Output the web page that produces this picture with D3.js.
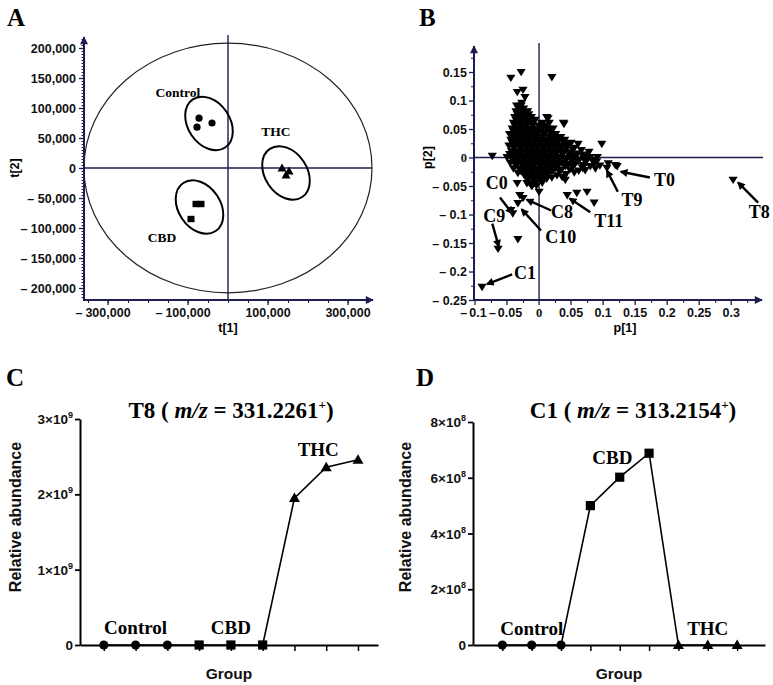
<!DOCTYPE html>
<html><head><meta charset="utf-8">
<script src="https://cdn.jsdelivr.net/npm/d3@7"></script>
<style>body{margin:0;background:#fff}</style>
</head><body>
<svg id="chart" width="773" height="685"></svg>
<script>
// ================= DATA =================
// Panel A: PCA score plot (t[1], t[2])
const scoreGroups = ["Control", "CBD", "THC"];
const controlScores = [[-72500, 83000], [-77500, 68000], [-40000, 75000]];
const cbdScores = [[-80000, -60000], [-67500, -60000], [-92500, -85000]];
const thcScores = [[135000, 0], [152500, -5000], [145000, -11700]];
const groupCentres = [[-47500, 74200], [-71250, -65000], [145000, -8300]];
const groupEllipseAxes = [72500, 52500];          // semi-axes, t[1] units
const hotellingAxes = [360000, 208000];           // Hotelling T2 ellipse
const scoreXTicks = [-300000, -100000, 100000, 300000];
const scoreYTicks = [200000, 150000, 100000, 50000, 0, -50000, -100000, -150000, -200000];

// Panel B: loading plot (p[1], p[2])
const loadings = [
  [-0.044,0.139],[-0.028,0.149],[0.020,0.140],[-0.034,0.114],[-0.025,0.118],[-0.022,0.105],
  [-0.027,0.095],[-0.033,0.077],[-0.019,0.079],[-0.028,0.066],[-0.014,0.068],[0.014,0.068],
  [0.039,0.058],[0.005,0.059],[-0.041,0.039],[-0.073,0.002],[-0.042,0.004],[0.045,0.024],
  [0.061,0.023],[0.078,0.009],[0.098,0.023],[0.091,0.000],[0.086,-0.011],[0.108,-0.011],
  [0.119,-0.014],[0.072,-0.023],[-0.033,-0.028],[-0.034,-0.046],[-0.019,-0.046],[0.000,-0.061],
  [0.041,-0.040],[0.044,-0.067],[0.059,-0.063],[0.075,-0.061],[0.086,-0.080],[-0.030,-0.067],
  [-0.025,-0.072],[-0.033,-0.081],[-0.041,-0.099],[-0.044,-0.093],[-0.033,-0.144],[-0.011,-0.051],
  [-0.064,-0.161],[-0.089,-0.228],[0.303,-0.040],[0.106,-0.019],[0.122,-0.016],
  [-0.035,0.090],[-0.028,0.090],
  [-0.032,0.085],[-0.024,0.085],
  [-0.036,0.080],[-0.027,0.080],[-0.018,0.080],
  [-0.034,0.075],[-0.025,0.075],[-0.016,0.075],
  [-0.038,0.070],[-0.030,0.070],[-0.020,0.070],[-0.012,0.070],[0.012,0.070],
  [-0.036,0.065],[-0.026,0.065],[-0.017,0.065],[-0.006,0.065],
  [-0.040,0.060],[-0.031,0.060],[-0.022,0.060],[-0.012,0.060],[0.004,0.060],[0.016,0.060],[0.038,0.060],
  [-0.038,0.055],[-0.029,0.055],[-0.020,0.055],[-0.010,0.055],[0.000,0.055],[0.010,0.055],
  [-0.042,0.050],[-0.034,0.050],[-0.025,0.050],[-0.016,0.050],[-0.006,0.050],[0.004,0.050],[0.014,0.050],[0.022,0.050],
  [-0.040,0.045],[-0.030,0.045],[-0.021,0.045],[-0.012,0.045],[-0.002,0.045],[0.008,0.045],[0.018,0.045],
  [-0.046,0.040],[-0.038,0.040],[-0.029,0.040],[-0.020,0.040],[-0.011,0.040],[-0.002,0.040],[0.008,0.040],[0.018,0.040],[0.026,0.040],
  [-0.040,0.035],[-0.031,0.035],[-0.022,0.035],[-0.013,0.035],[-0.004,0.035],[0.006,0.035],[0.016,0.035],[0.025,0.035],[0.034,0.035],
  [-0.044,0.030],[-0.035,0.030],[-0.026,0.030],[-0.017,0.030],[-0.008,0.030],[0.001,0.030],[0.011,0.030],[0.020,0.030],[0.030,0.030],[0.040,0.030],
  [-0.042,0.025],[-0.033,0.025],[-0.025,0.025],[-0.016,0.025],[-0.007,0.025],[0.002,0.025],[0.011,0.025],[0.020,0.025],[0.029,0.025],[0.039,0.025],[0.050,0.025],
  [-0.047,0.020],[-0.038,0.020],[-0.030,0.020],[-0.021,0.020],[-0.012,0.020],[-0.003,0.020],[0.006,0.020],[0.015,0.020],[0.024,0.020],[0.034,0.020],[0.044,0.018],[0.055,0.016],
  [-0.039,0.015],[-0.029,0.015],[-0.020,0.015],[-0.011,0.015],[-0.002,0.015],[0.007,0.015],[0.016,0.015],[0.025,0.015],[0.034,0.015],[0.043,0.015],[0.053,0.013],[0.066,0.012],
  [-0.043,0.010],[-0.034,0.010],[-0.025,0.010],[-0.016,0.010],[-0.007,0.010],[0.002,0.010],[0.011,0.010],[0.020,0.010],[0.029,0.010],[0.038,0.010],[0.048,0.008],[0.060,0.006],[0.072,0.004],
  [-0.046,0.005],[-0.036,0.005],[-0.027,0.005],[-0.018,0.005],[-0.009,0.005],[0.000,0.005],[0.009,0.005],[0.018,0.005],[0.027,0.005],[0.037,0.005],[0.047,0.003],[0.057,0.002],[0.069,0.001],[0.080,0.000],
  [-0.050,0.000],[-0.040,0.000],[-0.031,0.000],[-0.022,0.000],[-0.013,0.000],[-0.004,0.000],[0.005,0.000],[0.014,0.000],[0.023,0.000],[0.032,0.000],[0.042,-0.002],[0.052,-0.002],[0.063,-0.004],[0.075,-0.004],[0.084,-0.006],
  [-0.041,-0.005],[-0.032,-0.005],[-0.023,-0.005],[-0.014,-0.005],[-0.005,-0.005],[0.004,-0.005],[0.013,-0.005],[0.022,-0.005],[0.031,-0.005],[0.041,-0.006],[0.051,-0.007],[0.061,-0.008],[0.073,-0.009],[0.090,-0.008],
  [-0.045,-0.010],[-0.036,-0.010],[-0.027,-0.010],[-0.018,-0.010],[-0.009,-0.010],[0.000,-0.010],[0.009,-0.010],[0.018,-0.010],[0.027,-0.010],[0.036,-0.010],[0.046,-0.012],[0.056,-0.012],[0.068,-0.014],[0.080,-0.016],[0.095,-0.015],
  [-0.036,-0.015],[-0.026,-0.015],[-0.017,-0.015],[-0.008,-0.015],[0.002,-0.015],[0.011,-0.015],[0.020,-0.015],[0.030,-0.015],[0.041,-0.016],[0.053,-0.017],[0.068,-0.019],[0.088,-0.020],
  [-0.040,-0.020],[-0.030,-0.020],[-0.021,-0.020],[-0.012,-0.020],[-0.003,-0.020],[0.006,-0.020],[0.015,-0.020],[0.025,-0.020],[0.035,-0.022],[0.048,-0.022],[0.062,-0.024],
  [-0.028,-0.025],[-0.019,-0.025],[-0.010,-0.025],[0.000,-0.025],[0.009,-0.025],[0.020,-0.025],[0.032,-0.026],[0.055,-0.027],
  [-0.024,-0.030],[-0.015,-0.030],[-0.006,-0.030],[0.004,-0.030],[0.014,-0.030],[0.028,-0.032],[0.042,-0.030],
  [-0.020,-0.035],[-0.011,-0.035],[-0.001,-0.035],[0.008,-0.035],[0.020,-0.036],[0.036,-0.035],
  [-0.018,-0.040],[-0.008,-0.040],[0.002,-0.040],[0.012,-0.038],
  [-0.015,-0.045],[-0.006,-0.045],[0.005,-0.045],
  [-0.012,-0.050],[-0.004,-0.050]
];
// annotated loadings: name, label anchor, arrow start, arrow end (p[1], p[2])
const loadingLabels = ["T0", "T9", "T8", "T11", "C0", "C8", "C9", "C10", "C1"];
const labelAnchors = [[0.196,-0.039],[0.145,-0.075],[0.344,-0.095],[0.109,-0.111],[-0.066,-0.045],[0.036,-0.096],[-0.070,-0.103],[0.034,-0.139],[-0.022,-0.202]];
const arrowStarts = [[0.173,-0.035],[0.123,-0.060],[0.342,-0.079],[0.080,-0.096],[-0.061,-0.070],[0.019,-0.093],[-0.073,-0.116],[0.003,-0.128],[-0.042,-0.205]];
const arrowEnds = [[0.128,-0.025],[0.106,-0.023],[0.311,-0.044],[0.048,-0.072],[-0.042,-0.098],[-0.019,-0.074],[-0.063,-0.156],[-0.027,-0.091],[-0.081,-0.222]];
const loadYTicks = [0.15, 0.1, 0.05, 0, -0.05, -0.1, -0.15, -0.2, -0.25];
const loadXTicks = [-0.1, -0.05, 0, 0.05, 0.1, 0.15, 0.2, 0.25, 0.3];

// Panels C & D: relative abundance per sample
const sampleGroups = ["Control","Control","Control","CBD","CBD","CBD","THC","THC","THC"];
const t8Abundance = [0, 0, 0, 0, 0, 0, 1.95e9, 2.36e9, 2.46e9];
const c1Abundance = [0, 0, 0, 5.0e8, 6.02e8, 6.88e8, 0, 0, 0];
const t8Ticks = [0, 1e9, 2e9, 3e9];
const c1Ticks = [0, 2e8, 4e8, 6e8, 8e8];

// ================= DRAWING =================
const svg = d3.select("#chart");
const NAVY = "#1c1c4e";
const SERIF = "'Liberation Serif','Times New Roman',serif";
const SANS = "'Liberation Sans',Arial,sans-serif";

svg.append("defs").html(`
  <marker id="axArrow" viewBox="0 0 10 10" refX="9" refY="5" markerWidth="10" markerHeight="8" markerUnits="userSpaceOnUse" orient="auto">
    <path d="M0,0 L10,5 L0,10 Z" fill="${NAVY}"/></marker>
  <marker id="blkArrow" viewBox="0 0 10 10" refX="8" refY="5" markerWidth="9" markerHeight="8" markerUnits="userSpaceOnUse" orient="auto">
    <path d="M0,0 L10,5 L0,10 Z" fill="#000"/></marker>`);

function panelLetter(t, x, y) {
  svg.append("text").attr("x", x).attr("y", y).text(t)
    .attr("font-family", SERIF).attr("font-weight", "bold").attr("font-size", 25);
}
panelLetter("A", 7, 26); panelLetter("B", 419, 26);
panelLetter("C", 6, 386); panelLetter("D", 416, 386);

const dashFmt = (fmt) => (v) => v < 0 ? "\u2013 " + fmt(-v) : fmt(v);

// ---------- Panel A ----------
(function () {
  const g = svg.append("g");
  const x = d3.scaleLinear().domain([-360000, 355000]).range([84, 370]);
  const y = d3.scaleLinear().domain([-220000, 220000]).range([300, 36]);
  const fmt = d3.format(",");
  const FS = 12.5;

  g.append("ellipse").attr("cx", x(0)).attr("cy", y(0))
    .attr("rx", x(hotellingAxes[0]) - x(0)).attr("ry", y(0) - y(hotellingAxes[1]))
    .attr("fill", "none").attr("stroke", "#222").attr("stroke-width", 1.2);

  g.append("line").attr("x1", x(0)).attr("x2", x(0)).attr("y1", 35).attr("y2", 300)
    .attr("stroke", NAVY).attr("stroke-width", 1.4);
  g.append("line").attr("x1", 84).attr("x2", 372).attr("y1", y(0)).attr("y2", y(0))
    .attr("stroke", NAVY).attr("stroke-width", 1.4);

  groupCentres.forEach(c => {
    g.append("ellipse")
      .attr("transform", `translate(${x(c[0])},${y(c[1])}) rotate(56)`)
      .attr("rx", x(groupEllipseAxes[0]) - x(0)).attr("ry", x(groupEllipseAxes[1]) - x(0))
      .attr("fill", "none").attr("stroke", "#000").attr("stroke-width", 2);
  });

  g.selectAll(".ctl").data(controlScores).join("circle")
    .attr("cx", d => x(d[0])).attr("cy", d => y(d[1])).attr("r", 3.6).attr("fill", "#000");
  g.selectAll(".cbd").data(cbdScores).join("rect")
    .attr("x", d => x(d[0]) - 3.5).attr("y", d => y(d[1]) - 3.2).attr("width", 7).attr("height", 6.4).attr("fill", "#000");
  g.selectAll(".thc").data(thcScores).join("path")
    .attr("transform", d => `translate(${x(d[0])},${y(d[1])})`)
    .attr("d", "M0,-4.5 L4.5,3.5 L-4.5,3.5 Z").attr("fill", "#000");

  const lab = (t, px, py) => g.append("text").attr("x", px).attr("y", py).text(t)
    .attr("text-anchor", "middle").attr("font-family", SERIF).attr("font-weight", "bold").attr("font-size", 13.5);
  lab(scoreGroups[0], x(-125000), y(125000) + 4);
  lab(scoreGroups[2], x(120000), y(60000) + 4);
  lab(scoreGroups[1], x(-165000), y(-117000) + 4);

  const yMinor = g.append("g").attr("transform", "translate(84,0)")
    .call(d3.axisLeft(y).tickValues(d3.range(-215000, 216000, 5000)).tickSize(2.5).tickFormat(""));
  yMinor.select(".domain").remove();
  yMinor.selectAll("line").attr("stroke", NAVY).attr("stroke-width", 1);
  const yAx = g.append("g").attr("transform", "translate(84,0)")
    .call(d3.axisLeft(y).tickValues(scoreYTicks).tickSize(5).tickPadding(3).tickFormat(dashFmt(fmt)));
  yAx.select(".domain").remove();
  yAx.selectAll("line").attr("stroke", NAVY).attr("stroke-width", 1.3);
  yAx.selectAll("text").attr("font-family", SANS).attr("font-weight", "bold").attr("font-size", FS).attr("fill", "#111");
  g.append("line").attr("x1", 84).attr("x2", 84).attr("y1", 301).attr("y2", 37)
    .attr("stroke", NAVY).attr("stroke-width", 2).attr("marker-end", "url(#axArrow)");

  const xMinor = g.append("g").attr("transform", "translate(0,300)")
    .call(d3.axisBottom(x).tickValues(d3.range(-350000, 351000, 50000)).tickSize(3).tickFormat(""));
  xMinor.select(".domain").remove();
  xMinor.selectAll("line").attr("stroke", NAVY).attr("stroke-width", 1);
  g.append("line").attr("x1", 83).attr("x2", 373).attr("y1", 300).attr("y2", 300)
    .attr("stroke", NAVY).attr("stroke-width", 2).attr("marker-end", "url(#axArrow)");
  scoreXTicks.forEach(v => {
    g.append("line").attr("x1", x(v)).attr("x2", x(v)).attr("y1", 300).attr("y2", 305)
      .attr("stroke", NAVY).attr("stroke-width", 1.3);
    const t = g.append("text").attr("x", x(v)).attr("y", 317).attr("text-anchor", "middle").text(fmt(Math.abs(v)))
      .attr("font-family", SANS).attr("font-weight", "bold").attr("font-size", FS).attr("fill", "#111");
    if (v < 0) {
      const w = t.node().getComputedTextLength();
      g.append("text").attr("x", x(v) - w / 2 - 3).attr("y", 317).attr("text-anchor", "end").text("\u2013")
        .attr("font-family", SANS).attr("font-weight", "bold").attr("font-size", FS).attr("fill", "#111");
    }
  });
  g.append("text").attr("x", x(0)).attr("y", 332).attr("text-anchor", "middle").text("t[1]")
    .attr("font-family", SANS).attr("font-weight", "bold").attr("font-size", 12.5);
  g.append("text").attr("transform", `translate(19,${y(0)}) rotate(-90)`).attr("text-anchor", "middle").text("t[2]")
    .attr("font-family", SANS).attr("font-weight", "bold").attr("font-size", 12.5);
})();

// ---------- Panel B ----------
(function () {
  const g = svg.append("g");
  const x = d3.scaleLinear().domain([-0.1, 0.345]).range([475, 760]);
  const y = d3.scaleLinear().domain([-0.25, 0.195]).range([300, 46.35]);
  const fmt = v => String(+v.toFixed(3));
  const FS = 12.5;

  g.append("line").attr("x1", x(0)).attr("x2", x(0)).attr("y1", 43).attr("y2", 300)
    .attr("stroke", NAVY).attr("stroke-width", 1.4);
  g.append("line").attr("x1", 474).attr("x2", 763).attr("y1", y(0)).attr("y2", y(0))
    .attr("stroke", NAVY).attr("stroke-width", 1.4);

  g.selectAll(".ld").data(loadings).join("path")
    .attr("transform", d => `translate(${x(d[0])},${y(d[1])})`)
    .attr("d", "M-4.6,-3.6 L4.6,-3.6 L0,3.8 Z").attr("fill", "#000");

  const yMinor = g.append("g").attr("transform", "translate(474,0)")
    .call(d3.axisLeft(y).tickValues(d3.range(-0.225, 0.18, 0.05)).tickSize(3).tickFormat(""));
  yMinor.select(".domain").remove();
  yMinor.selectAll("line").attr("stroke", NAVY);
  const yAx = g.append("g").attr("transform", "translate(474,0)")
    .call(d3.axisLeft(y).tickValues(loadYTicks).tickSize(5).tickPadding(2).tickFormat(dashFmt(fmt)));
  yAx.select(".domain").remove();
  yAx.selectAll("line").attr("stroke", NAVY).attr("stroke-width", 1.3);
  yAx.selectAll("text").attr("font-family", d => d === 0 ? SERIF : SANS).attr("font-weight", "bold")
    .attr("font-size", FS).attr("fill", "#111");
  g.append("line").attr("x1", 474).attr("x2", 474).attr("y1", 301).attr("y2", 46)
    .attr("stroke", NAVY).attr("stroke-width", 2).attr("marker-end", "url(#axArrow)");

  const xMinor = g.append("g").attr("transform", "translate(0,300)")
    .call(d3.axisBottom(x).tickValues(d3.range(-0.075, 0.33, 0.05)).tickSize(3).tickFormat(""));
  xMinor.select(".domain").remove();
  xMinor.selectAll("line").attr("stroke", NAVY);
  g.append("line").attr("x1", 473).attr("x2", 762).attr("y1", 300).attr("y2", 300)
    .attr("stroke", NAVY).attr("stroke-width", 2).attr("marker-end", "url(#axArrow)");
  loadXTicks.forEach(v => {
    g.append("line").attr("x1", x(v)).attr("x2", x(v)).attr("y1", 300).attr("y2", 305)
      .attr("stroke", NAVY).attr("stroke-width", 1.3);
    const t = g.append("text").attr("x", x(v) + (v < 0 ? 3 : 0)).attr("y", 317).attr("text-anchor", "middle").text(fmt(Math.abs(v)))
      .attr("font-family", v === 0 ? SERIF : SANS).attr("font-weight", "bold").attr("font-size", FS).attr("fill", "#111");
    if (v < 0) {
      const w = t.node().getComputedTextLength();
      g.append("text").attr("x", x(v) + 3 - w / 2 - 2).attr("y", 317).attr("text-anchor", "end").text("\u2013")
        .attr("font-family", SANS).attr("font-weight", "bold").attr("font-size", FS).attr("fill", "#111");
    }
  });
  g.append("text").attr("x", 625).attr("y", 332).attr("text-anchor", "middle").text("p[1]")
    .attr("font-family", SANS).attr("font-weight", "bold").attr("font-size", 12.5);
  g.append("text").attr("transform", `translate(432,${y(0)}) rotate(-90)`).attr("text-anchor", "middle").text("p[2]")
    .attr("font-family", SANS).attr("font-weight", "bold").attr("font-size", 12.5);

  loadingLabels.forEach((name, i) => {
    g.append("line").attr("x1", x(arrowStarts[i][0])).attr("y1", y(arrowStarts[i][1]))
      .attr("x2", x(arrowEnds[i][0])).attr("y2", y(arrowEnds[i][1]))
      .attr("stroke", "#000").attr("stroke-width", 2.4).attr("marker-end", "url(#blkArrow)");
    g.append("text").attr("x", x(labelAnchors[i][0])).attr("y", y(labelAnchors[i][1]) + 6)
      .attr("text-anchor", "middle").text(name)
      .attr("font-family", SERIF).attr("font-weight", "bold").attr("font-size", 18);
  });
})();

// ---------- Panels C & D ----------
function abundancePanel(opts) {
  const g = svg.append("g");
  const x = d3.scaleLinear().domain(opts.xDomain).range(opts.xRange);
  const y = d3.scaleLinear().domain([0, opts.ticks[opts.ticks.length - 1]]).range([645, opts.yTop]);
  const idx = d3.range(1, opts.values.length + 1);

  const yAx = g.append("g").attr("transform", `translate(${opts.xRange[0]},0)`)
    .call(d3.axisLeft(y).tickValues(opts.ticks).tickSize(5).tickSizeOuter(0).tickPadding(3).tickFormat(""));
  yAx.select(".domain").attr("stroke", "#000").attr("stroke-width", 2);
  yAx.selectAll(".tick line").attr("stroke", "#000").attr("stroke-width", 1.8);
  opts.ticks.forEach(v => {
    const t = g.append("text").attr("x", opts.xRange[0] - 7).attr("y", y(v) + 5).attr("text-anchor", "end")
      .attr("font-family", SANS).attr("font-weight", "bold").attr("font-size", 13.5).attr("fill", "#111");
    if (v === 0) { t.text("0"); return; }
    const e = Math.floor(Math.log10(v));
    t.append("tspan").text(Math.round(v / Math.pow(10, e)) + "\u00d710");
    t.append("tspan").attr("dy", -6).attr("font-size", 9).text(e);
  });
  const xAx = g.append("g").attr("transform", "translate(0,645)")
    .call(d3.axisBottom(x).tickValues(idx).tickSize(6).tickSizeOuter(0).tickFormat(""));
  xAx.select(".domain").attr("stroke", "#000").attr("stroke-width", 2);
  xAx.selectAll(".tick line").attr("stroke", "#000").attr("stroke-width", 1.5);

  g.append("path").datum(opts.values)
    .attr("d", d3.line().x((d, i) => x(i + 1)).y(d => y(d)))
    .attr("fill", "none").attr("stroke", "#000").attr("stroke-width", 1.6);
  opts.values.forEach((v, i) => {
    const cx = x(i + 1), cy = y(v), grp = sampleGroups[i];
    if (grp === "Control") g.append("circle").attr("cx", cx).attr("cy", cy).attr("r", 4.6).attr("fill", "#000");
    else if (grp === "CBD") g.append("rect").attr("x", cx - 4.6).attr("y", cy - 4.6).attr("width", 9.2).attr("height", 9.2).attr("fill", "#000");
    else g.append("path").attr("transform", `translate(${cx},${cy})`).attr("d", "M0,-5.5 L5.5,4 L-5.5,4 Z").attr("fill", "#000");
  });

  opts.labels.forEach(l => {
    g.append("text").attr("x", x(l[1])).attr("y", y(l[2]) - l[3]).attr("text-anchor", "middle").text(l[0])
      .attr("font-family", SERIF).attr("font-weight", "bold").attr("font-size", 19);
  });

  const t = g.append("text").attr("x", opts.titleX).attr("y", 418).attr("text-anchor", "middle")
    .attr("font-family", SERIF).attr("font-weight", "bold").attr("font-size", 23);
  t.append("tspan").text(opts.title + " ( ");
  t.append("tspan").attr("font-style", "italic").text("m/z");
  t.append("tspan").text(" = " + opts.mz);
  t.append("tspan").attr("dy", -9).attr("font-size", 13).text("+");
  t.append("tspan").attr("dy", 9).text(")");

  g.append("text").attr("x", (opts.xRange[0] + opts.xRange[1]) / 2).attr("y", 679).attr("text-anchor", "middle").text("Group")
    .attr("font-family", SANS).attr("font-weight", "bold").attr("font-size", 15.5).attr("fill", "#111");
  g.append("text").attr("transform", `translate(${opts.yLabelX},${opts.yLabelY}) rotate(-90)`).attr("text-anchor", "middle")
    .text("Relative abundance").attr("font-family", SANS).attr("font-weight", "bold").attr("font-size", 16).attr("fill", "#111");
}

abundancePanel({
  values: t8Abundance, ticks: t8Ticks, xDomain: [0.25, 9.63], xRange: [80, 378], yTop: 419,
  title: "T8", mz: "331.2261", titleX: 231, yLabelX: 21, yLabelY: 517,
  labels: [["Control", 2, 0, 11], ["CBD", 5, 0, 11], ["THC", 7.75, t8Abundance[7], 11]]
});
abundancePanel({
  values: c1Abundance, ticks: c1Ticks, xDomain: [0, 9.95], xRange: [473, 765], yTop: 422,
  title: "C1", mz: "313.2154", titleX: 633, yLabelX: 411, yLabelY: 517,
  labels: [["Control", 2, 0, 10], ["CBD", 4.75, c1Abundance[4], 13], ["THC", 8, 0, 10]]
});
</script>
</body></html>
